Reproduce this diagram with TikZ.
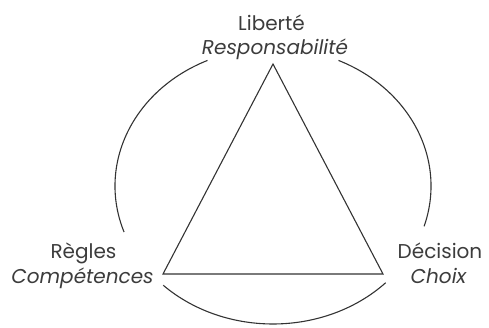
\documentclass[tikz,border=0pt]{standalone}
\usepackage{fontspec}
\setmainfont{Poppins}
\definecolor{ink}{HTML}{333333}
\definecolor{txt}{HTML}{3C3C3C}
\begin{document}
\begin{tikzpicture}[x=1pt,y=1pt,
  lbl/.style={inner sep=0pt, anchor=base, text=txt, font=\fontsize{20}{24}\selectfont},
  ilbl/.style={lbl, font=\fontsize{20}{24}\selectfont\itshape},
  stroke/.style={draw=ink, line width=1.1pt, line join=miter}]
\useasboundingbox (0,0) rectangle (489,327);
\coordinate (O) at (273,141);
\coordinate (A) at (273,263);
\coordinate (B) at (163,53);
\coordinate (C) at (383,53);
\node[lbl]  (lib)  at (271.5,296) {Liberté};
\node[ilbl] (resp) at (275,272)   {Responsabilité};
\node[lbl]  (reg)  at (83.5,69)   {Règles};
\node[ilbl] (comp) at (82.5,44)   {Compétences};
\node[lbl]  (dec)  at (440,69)    {Décision};
\node[ilbl] (cho)  at (438.5,44)  {Choix};
\draw[stroke] (A) -- (B) -- (C) -- cycle;
\draw[stroke] ([shift={(114.5:158 and 138)}]O) arc[start angle=114.5, end angle=199.5, x radius=158, y radius=138];
\draw[stroke] ([shift={(65.5:158 and 138)}]O) arc[start angle=65.5, end angle=-17, x radius=158, y radius=138];
\draw[stroke] ([shift={(226:158 and 138)}]O) arc[start angle=226, end angle=315.5, x radius=158, y radius=138];
\end{tikzpicture}
\end{document}
